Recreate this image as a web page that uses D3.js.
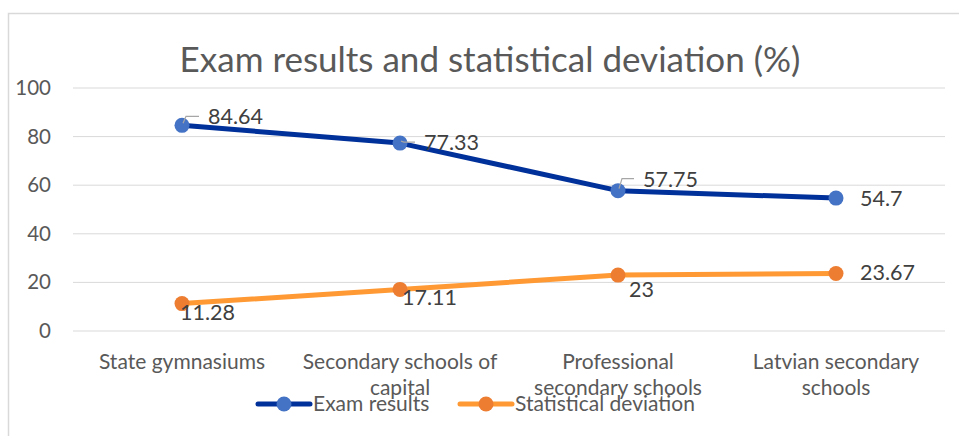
<!DOCTYPE html>
<html>
<head>
<meta charset="utf-8">
<script src="https://cdn.jsdelivr.net/npm/d3@7"></script>
<style>
  body { margin: 0; background: #fff; }
  text { font-family: Lato, "Open Sans", sans-serif; }
</style>
</head>
<body>
<svg id="chart" width="959" height="436"></svg>
<script>
var categories = ["State gymnasiums", "Secondary schools of capital", "Professional secondary schools", "Latvian secondary schools"];
var categoryLines = [["State gymnasiums"], ["Secondary schools of", "capital"], ["Professional", "secondary schools"], ["Latvian secondary", "schools"]];
var examResults = [84.64, 77.33, 57.75, 54.7];
var deviation = [11.28, 17.11, 23, 23.67];
var yTicks = [0, 20, 40, 60, 80, 100];
var seriesNames = ["Exam results", "Statistical deviation"];

var svg = d3.select("#chart");

// chart frame
svg.append("path")
    .attr("d", "M8.5,436 V13.5 H959")
    .attr("fill", "none")
    .attr("stroke", "#d9d9d9")
    .attr("stroke-width", 1.5);

svg.append("text")
    .attr("x", 490)
    .attr("y", 72)
    .attr("text-anchor", "middle")
    .attr("font-size", 35)
    .attr("fill", "#595959")
    .text("Exam results and statistical deviation (%)");

var x = d3.scaleBand().domain(categories).range([73, 945]);
var y = d3.scaleLinear().domain([0, 100]).range([331, 88]);

// gridlines
svg.append("g").selectAll("line")
    .data(yTicks)
    .enter().append("line")
    .attr("x1", 73).attr("x2", 945)
    .attr("y1", function (d) { return y(d); })
    .attr("y2", function (d) { return y(d); })
    .attr("stroke", "#d9d9d9")
    .attr("stroke-width", 1);

svg.append("g").selectAll("text")
    .data(yTicks)
    .enter().append("text")
    .attr("x", 51)
    .attr("y", function (d) { return y(d) + 7; })
    .attr("text-anchor", "end")
    .attr("font-size", 20.5)
    .attr("fill", "#595959")
    .text(function (d) { return d; });

// category labels
categories.forEach(function (c, i) {
    var t = svg.append("text")
        .attr("text-anchor", "middle")
        .attr("font-size", 21)
        .attr("fill", "#595959");
    categoryLines[i].forEach(function (line, j) {
        t.append("tspan")
            .attr("x", x(c) + x.bandwidth() / 2)
            .attr("y", 369 + j * 26)
            .text(line);
    });
});

function cx(i) { return x(categories[i]) + x.bandwidth() / 2; }

var line = d3.line()
    .x(function (d, i) { return cx(i); })
    .y(function (d) { return y(d); });

var series = [
    { values: examResults, stroke: "#00309a", fill: "#4472c4" },
    { values: deviation, stroke: "#ff9933", fill: "#ed7d31" }
];

series.forEach(function (s) {
    svg.append("path")
        .datum(s.values)
        .attr("d", line)
        .attr("fill", "none")
        .attr("stroke", s.stroke)
        .attr("stroke-width", 5)
        .attr("stroke-linejoin", "round");
    svg.append("g").selectAll("circle")
        .data(s.values)
        .enter().append("circle")
        .attr("cx", function (d, i) { return cx(i); })
        .attr("cy", function (d) { return y(d); })
        .attr("r", 7.5)
        .attr("fill", s.fill);
});

// data labels: [dx, baseline dy, leader line?] relative to the point
var examLabelPos = [[26, -1, true], [24, 7, true], [25, -4, true], [24, 8, false]];
var devLabelPos = [[-2, 16, false], [2, 16, false], [11, 22, false], [24, 7, false]];

function drawLabels(values, pos) {
    values.forEach(function (v, i) {
        var px = cx(i), py = y(v);
        var dx = pos[i][0], dy = pos[i][1];
        if (pos[i][2]) {
            var ly = py + dy - 8;
            svg.append("path")
                .attr("d", "M" + (px + 1) + "," + (py - 2) + " L" + (px + 4) + "," + ly + " H" + (px + dx - 9))
                .attr("fill", "none")
                .attr("stroke", "#a6a6a6")
                .attr("stroke-width", 1.2);
        }
        svg.append("text")
            .attr("x", px + dx)
            .attr("y", py + dy)
            .attr("font-size", 21.5)
            .attr("fill", "#404040")
            .text(v);
    });
}
drawLabels(examResults, examLabelPos);
drawLabels(deviation, devLabelPos);

// legend
var legendX = [258, 460];
series.forEach(function (s, i) {
    var lx = legendX[i];
    svg.append("line")
        .attr("x1", lx).attr("x2", lx + 52)
        .attr("y1", 404).attr("y2", 404)
        .attr("stroke", s.stroke)
        .attr("stroke-width", 5)
        .attr("stroke-linecap", "round");
    svg.append("circle")
        .attr("cx", lx + 26).attr("cy", 404)
        .attr("r", 7.5)
        .attr("fill", s.fill);
    svg.append("text")
        .attr("x", lx + 55)
        .attr("y", 411)
        .attr("font-size", 21)
        .attr("fill", "#595959")
        .text(seriesNames[i]);
});
</script>
</body>
</html>
